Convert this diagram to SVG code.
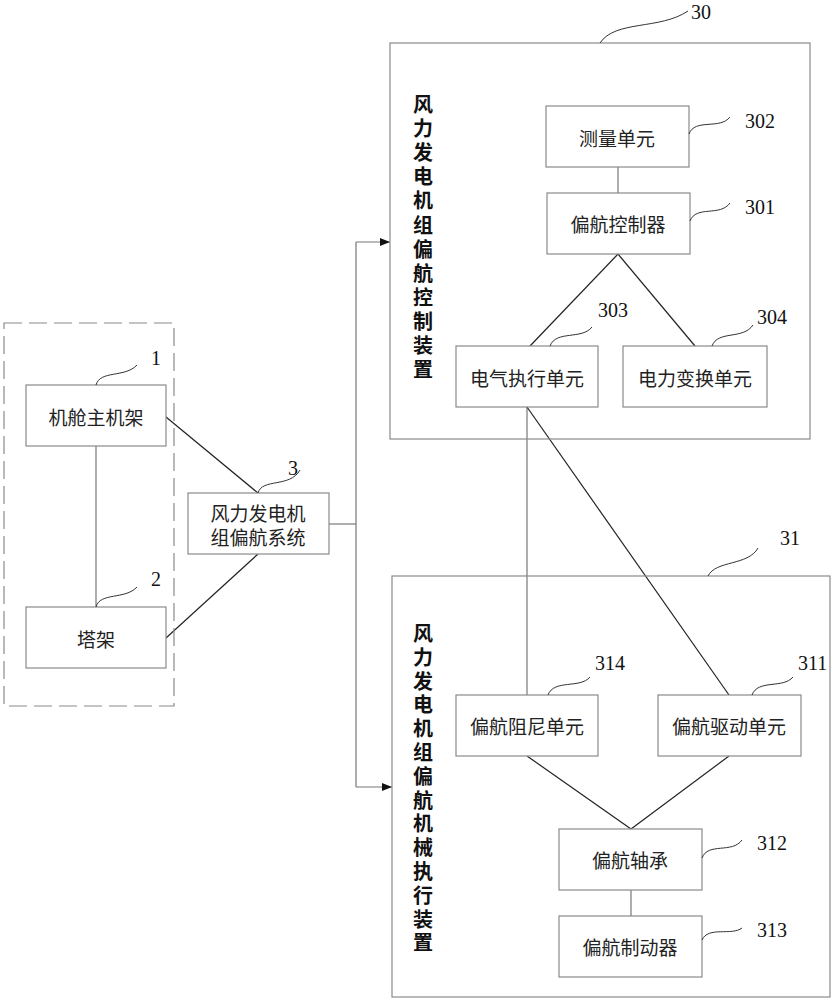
<svg xmlns="http://www.w3.org/2000/svg" width="834" height="1000" viewBox="0 0 834 1000">
<style>
.box{fill:#fff;stroke:#8a8a8a;stroke-width:1.2}
.frame{fill:none;stroke:#8a8a8a;stroke-width:1.2}
.dash{fill:none;stroke:#8a8a8a;stroke-width:1.2;stroke-dasharray:18 7}
.t{font-family:"Noto Sans CJK SC",sans-serif;font-size:19px;fill:#222;text-anchor:middle;dominant-baseline:central}
.v{font-family:"Noto Sans CJK SC",sans-serif;font-size:20px;font-weight:bold;fill:#111;text-anchor:middle;dominant-baseline:central}
.n{font-family:"Liberation Serif",serif;font-size:20px;fill:#111}
.lead{fill:none;stroke:#333;stroke-width:1}
.c{fill:none;stroke:#222;stroke-width:1.2}
.g{fill:none;stroke:#777;stroke-width:1.2}
</style>
<defs>
<marker id="arr" markerWidth="10" markerHeight="8" refX="10" refY="4" orient="auto" markerUnits="userSpaceOnUse">
<path d="M0,0 L10,4 L0,8 Z" fill="#111"/>
</marker>
</defs>
<rect width="834" height="1000" fill="#fff"/>

<g id="connectors">
<line class="g" x1="96" y1="446" x2="96" y2="607"/>
<line class="c" x1="166" y1="417" x2="258" y2="493"/>
<line class="c" x1="166" y1="638" x2="258" y2="554"/>
<line class="g" x1="329" y1="524" x2="356" y2="524"/>
<line class="g" x1="356" y1="242" x2="356" y2="787"/>
<line class="g" x1="356" y1="242" x2="390" y2="242" marker-end="url(#arr)"/>
<line class="g" x1="356" y1="787" x2="392" y2="787" marker-end="url(#arr)"/>
<line class="g" x1="618" y1="167" x2="618" y2="193"/>
<line class="c" x1="618" y1="254" x2="530" y2="346"/>
<line class="c" x1="618" y1="254" x2="695" y2="346"/>
<line class="g" x1="527" y1="407" x2="527" y2="695"/>
<line class="c" x1="527" y1="407" x2="729" y2="695"/>
<line class="c" x1="527" y1="756" x2="631" y2="829"/>
<line class="c" x1="729" y1="756" x2="631" y2="829"/>
<line class="g" x1="631" y1="890" x2="631" y2="916"/>
</g>

<g id="group-left">
<rect class="dash" x="4" y="323" width="170" height="383"/>
</g>

<g id="n1">
<rect class="box" x="26" y="385" width="140" height="61"/>
<text class="t" x="96" y="416">机舱主机架</text>
<path class="lead" d="M96,385 C100,370 125,378 137,365"/>
<text class="n" x="151" y="365">1</text>
</g>

<g id="n2">
<rect class="box" x="26" y="607" width="140" height="61"/>
<text class="t" x="96" y="638">塔架</text>
<path class="lead" d="M96,607 C100,592 125,600 137,587"/>
<text class="n" x="151" y="586">2</text>
</g>

<g id="n3">
<rect class="box" x="188" y="493" width="141" height="61"/>
<text class="t" x="258" y="512">风力发电机</text>
<text class="t" x="258" y="536">组偏航系统</text>
<path class="lead" d="M258,493 C262,478 290,488 300,470"/>
<text class="n" x="288" y="475">3</text>
</g>

<g id="n30">
<rect class="frame" x="390" y="43" width="420" height="396"/>
<path class="lead" d="M600,43 C615,20 660,30 688,11"/>
<text class="n" x="691" y="19">30</text>
<text class="v" x="423" y="103"><tspan x="423">风</tspan><tspan x="423" dy="24.1">力</tspan><tspan x="423" dy="24.1">发</tspan><tspan x="423" dy="24.1">电</tspan><tspan x="423" dy="24.1">机</tspan><tspan x="423" dy="24.1">组</tspan><tspan x="423" dy="24.1">偏</tspan><tspan x="423" dy="24.1">航</tspan><tspan x="423" dy="24.1">控</tspan><tspan x="423" dy="24.1">制</tspan><tspan x="423" dy="24.1">装</tspan><tspan x="423" dy="24.1">置</tspan></text>
</g>

<g id="n302">
<rect class="box" x="546" y="106" width="143" height="61"/>
<text class="t" x="617" y="137">测量单元</text>
<path class="lead" d="M689,134 C695,118 720,130 730,117"/>
<text class="n" x="745" y="128">302</text>
</g>

<g id="n301">
<rect class="box" x="547" y="193" width="143" height="61"/>
<text class="t" x="618" y="223">偏航控制器</text>
<path class="lead" d="M690,221 C696,205 720,217 730,203"/>
<text class="n" x="745" y="214">301</text>
</g>

<g id="n303">
<rect class="box" x="456" y="346" width="142" height="61"/>
<text class="t" x="527" y="377">电气执行单元</text>
<path class="lead" d="M550,346 C556,330 582,340 592,327"/>
<text class="n" x="598" y="317">303</text>
</g>

<g id="n304">
<rect class="box" x="623" y="346" width="144" height="61"/>
<text class="t" x="695" y="377">电力变换单元</text>
<path class="lead" d="M712,346 C718,330 743,340 753,325"/>
<text class="n" x="757" y="324">304</text>
</g>

<g id="n31">
<rect class="frame" x="392" y="576" width="438" height="421"/>
<path class="lead" d="M708,576 C716,560 748,566 758,548"/>
<text class="n" x="780" y="545">31</text>
<text class="v" x="423" y="632"><tspan x="423">风</tspan><tspan x="423" dy="23.8">力</tspan><tspan x="423" dy="23.8">发</tspan><tspan x="423" dy="23.8">电</tspan><tspan x="423" dy="23.8">机</tspan><tspan x="423" dy="23.8">组</tspan><tspan x="423" dy="23.8">偏</tspan><tspan x="423" dy="23.8">航</tspan><tspan x="423" dy="23.8">机</tspan><tspan x="423" dy="23.8">械</tspan><tspan x="423" dy="23.8">执</tspan><tspan x="423" dy="23.8">行</tspan><tspan x="423" dy="23.8">装</tspan><tspan x="423" dy="23.8">置</tspan></text>
</g>

<g id="n314">
<rect class="box" x="456" y="695" width="142" height="61"/>
<text class="t" x="527" y="725">偏航阻尼单元</text>
<path class="lead" d="M548,695 C554,679 580,689 590,677"/>
<text class="n" x="595" y="670">314</text>
</g>

<g id="n311">
<rect class="box" x="658" y="695" width="143" height="61"/>
<text class="t" x="729" y="725">偏航驱动单元</text>
<path class="lead" d="M752,695 C758,679 783,689 793,677"/>
<text class="n" x="798" y="670">311</text>
</g>

<g id="n312">
<rect class="box" x="559" y="829" width="143" height="61"/>
<text class="t" x="630" y="859">偏航轴承</text>
<path class="lead" d="M702,858 C708,842 732,854 742,840"/>
<text class="n" x="757" y="850">312</text>
</g>

<g id="n313">
<rect class="box" x="559" y="916" width="143" height="61"/>
<text class="t" x="630" y="946">偏航制动器</text>
<path class="lead" d="M702,940 C708,926 732,936 742,928"/>
<text class="n" x="757" y="937">313</text>
</g>
</svg>
